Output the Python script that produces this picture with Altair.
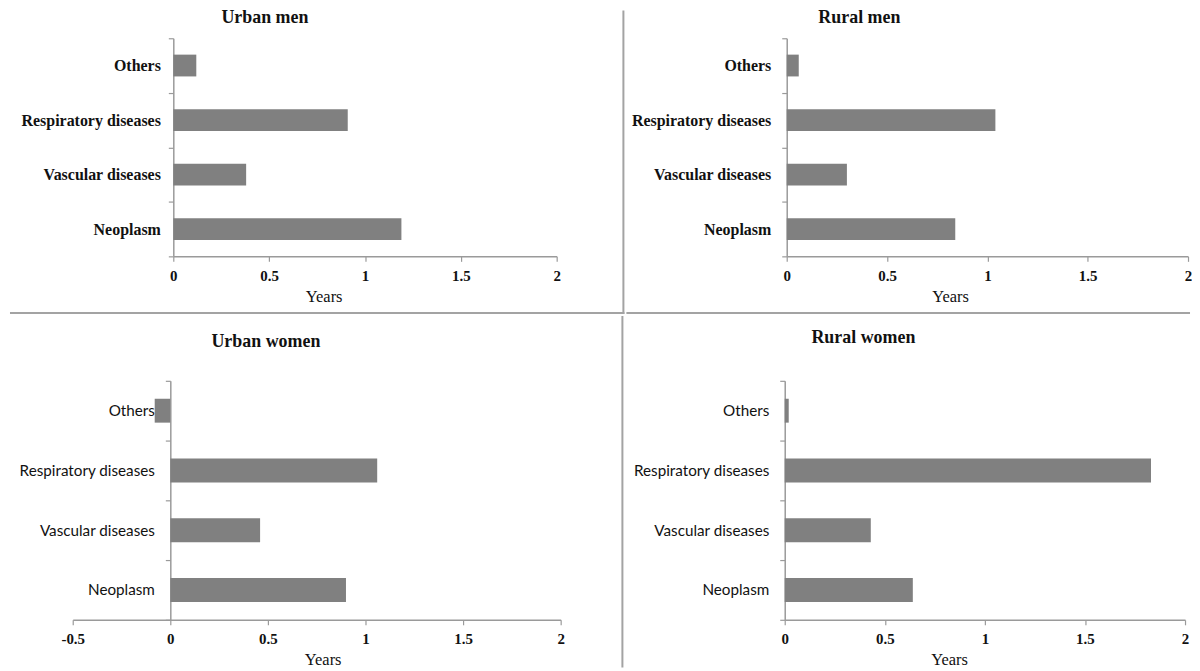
import altair as alt
import pandas as pd

categories = ["Others", "Respiratory diseases", "Vascular diseases", "Neoplasm"]
urban_men = [0.12, 0.91, 0.38, 1.19]
rural_men = [0.06, 1.04, 0.30, 0.84]
urban_women = [-0.08, 1.06, 0.46, 0.90]
rural_women = [0.02, 1.83, 0.43, 0.64]

ticks_pos = [0, 0.5, 1, 1.5, 2]
ticks_neg = [-0.5, 0, 0.5, 1, 1.5, 2]

BAR = "#808080"
AXIS = "#9a9a9a"
LINE = "#a3a3a3"
SERIF = "Liberation Serif"
SANS = "Lato"

label_expr = "datum.value < 0 ? '-' + format(-datum.value, '~g') : format(datum.value, '~g')"

# page layout (pixels): quadrant edges and divider positions
LEFT, MIDX, RIGHT = 9, 625, 1192
TOP, MIDY, BOTTOM = 8, 313, 666

one = alt.Data(values=[{}])


def frame_layers(ox, oy, x0, x1, y0, y1, lines, title, tx, ty):
    layers = [alt.Chart(one).mark_rect(opacity=0, strokeWidth=0).encode(
        x=alt.value(x0 - ox), x2=alt.value(x1 - ox),
        y=alt.value(y0 - oy), y2=alt.value(y1 - oy))]
    for (a, b, c, d) in lines:
        layers.append(alt.Chart(one).mark_rule(color=LINE, strokeWidth=2).encode(
            x=alt.value(a - ox), x2=alt.value(c - ox),
            y=alt.value(b - oy), y2=alt.value(d - oy)))
    layers.append(alt.Chart(one).mark_text(
        text=title, font=SERIF, fontSize=18, fontWeight="bold", color="#111111",
        align="center", baseline="middle").encode(
        x=alt.value(tx - ox), y=alt.value(ty - oy)))
    return layers


def panel(values, title, ox, oy, width, height, domain, ticks, lab_font, lab_weight,
          lab_size, lab_pad, quad, lines, tx, ty, years_x, yoffset=0):
    df = pd.DataFrame({"category": categories, "value": values})
    bars = alt.Chart(df).mark_bar(color=BAR, height=alt.RelativeBandSize(0.4)).encode(
        x=alt.X("value:Q",
                scale=alt.Scale(domain=domain, nice=False, zero=False),
                axis=alt.Axis(values=ticks, labelExpr=label_expr, title="Years",
                              grid=False, tickSize=5, labelPadding=7, labelFlush=False,
                              labelFont=SERIF, labelFontWeight="bold", labelFontSize=15,
                              labelColor="#111111", titleFont=SERIF, titleFontWeight="normal",
                              titleFontSize=16.5, titleColor="#111111", titlePadding=5,
                              titleX=years_x - ox,
                              domainColor=AXIS, tickColor=AXIS, domainWidth=1.5,
                              tickWidth=1.2)),
        y=alt.Y("category:N", sort=categories,
                scale=alt.Scale(paddingInner=0, paddingOuter=0),
                axis=alt.Axis(title=None, tickBand="extent", tickSize=5, labelPadding=lab_pad,
                              labelFont=lab_font, labelFontWeight=lab_weight,
                              labelFontSize=lab_size, labelColor="#111111",
                              domainColor=AXIS, tickColor=AXIS, domainWidth=1.5,
                              tickWidth=1.2, labelLimit=300, offset=yoffset)),
    )
    layers = [bars] + frame_layers(ox, oy, *quad, lines, title, tx, ty)
    return alt.layer(*layers).properties(width=width, height=height)


def spacer():
    # 1px invisible cell so that both rows share the same left anchor
    return alt.Chart(one).mark_rect(opacity=0, strokeWidth=0).encode(
        x=alt.value(0), x2=alt.value(1), y=alt.value(0), y2=alt.value(1)
    ).properties(width=1, height=1)


p1 = panel(urban_men, "Urban men", 173, 36, 385, 219, [0, 2], ticks_pos, SERIF, "bold", 16, 8,
           (LEFT, MIDX + 1, TOP, MIDY),
           [(LEFT, MIDY - 1, MIDX + 1, MIDY - 1), (MIDX, TOP, MIDX, MIDY)], 265, 16, 324)
p2 = panel(rural_men, "Rural men", 787, 36, 403, 219, [0, 2], ticks_pos, SERIF, "bold", 16, 11,
           (MIDX + 1, RIGHT, TOP, MIDY),
           [(MIDX + 1, MIDY - 1, RIGHT, MIDY - 1)], 860, 16, 951)
p3 = panel(urban_women, "Urban women", 73, 378, 490, 240, [-0.5, 2], ticks_neg, SANS, "normal", 15.3,
           11, (LEFT, MIDX + 1, MIDY, BOTTOM),
           [(MIDX, MIDY, MIDX, BOTTOM)], 267, 339, 324, yoffset=-98)
p4 = panel(rural_women, "Rural women", 788, 378, 402, 240, [0, 2], ticks_pos, SANS, "normal", 15.3,
           11, (MIDX + 1, RIGHT, MIDY, BOTTOM), [], 867, 335, 953)

row1 = alt.hconcat(spacer(), p1, p2, spacing=0)
row2 = alt.hconcat(spacer(), p3, p4, spacing=0)

chart = alt.vconcat(row1, row2, spacing=0, padding=0, background="white").configure_view(
    stroke=None, strokeWidth=0
)

chart.save("out.html", embed_options={"renderer": "svg", "actions": False})
